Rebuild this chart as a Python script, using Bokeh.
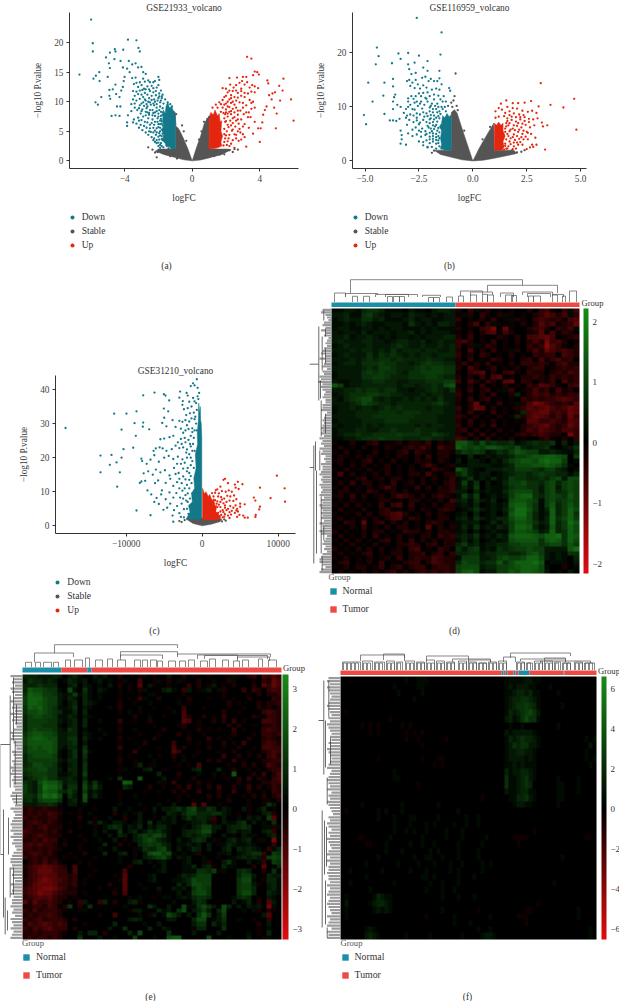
from bokeh.plotting import figure
from bokeh.layouts import column, row
from bokeh.embed import file_html
from bokeh.resources import INLINE
from bokeh.models import Range1d, Label, Legend, LegendItem, FixedTicker, ColorBar, LinearColorMapper, Title
import numpy as np

FONT = "Liberation Serif"
TEAL, GREY, RED = "#12788a", "#555555", "#e5260f"
BAR_N, BAR_T = "#1b8ea8", "#ee4a44"
TXT = "#333333"

# ---------- volcano data: flat x,y lists ----------
a_down = [-5.98,23.9,-5.88,19.9,-5.88,18.5,-6.67,14.6,-3.8,20.5,-3.3,20.4,-4.58,18.9,-4.54,18.5,-4.08,18.8,-3.18,19.1,-3.1,18.5,-4.87,18.3,-5.1,17.5,-4.6,17.2,-4.24,16.9,-4.93,16.5,-4.87,15.7,-5.5,15,-5.7,14.4,-5.84,13.9,-5.48,13.5,-5,14.2,-4.54,12.9,-5.72,9.9,-5.58,9.5,-5.38,10.8,-4.9,12,-4.9,11,-4.85,10.5,-4.7,12.1,-4.5,11.3,-4.2,11.9,-4.3,10.8,-4.1,12.5,-4.05,13.5,-4,14.2,-4.1,15.8,-3.85,15.6,-3.7,15,-3.75,16.9,-3.55,16.3,-3.35,16.5,-3.2,15.8,-3,15.9,-2.9,15,-2.75,14.7,-2.9,13.9,-3.35,14.1,-3.55,14,-3.45,13,-3.3,13.2,-3.2,12.5,-3.1,13.3,-3,12.8,-2.85,12.2,-2.65,12.6,-2.5,13.3,-2.4,12.7,-2,14.2,-1.95,13.7,-2.2,13.5,-2.1,12.4,-2,12.8,-1.85,11.9,-1.75,11.2,-1.6,10.4,-1.45,9.9,-1.3,9.6,-1.2,9.2,-3.5,11.8,-3.4,11,-3.3,10.2,-3.2,11.3,-3.1,10.5,-3,11.2,-2.9,10.8,-2.8,11.5,-2.75,10.2,-2.65,11.2,-2.55,10.6,-2.5,11.8,-2.4,11,-2.3,11.6,-2.25,10.4,-2.15,11.1,-2.05,10.2,-1.95,10.9,-1.85,10.2,-3.6,9.6,-3.4,9,-3.25,8.6,-3.1,9.4,-3,8.4,-2.85,9.3,-2.75,8.3,-2.65,9.2,-2.55,8.1,-2.45,9.5,-2.35,8.6,-2.25,9.4,-2.2,8.2,-2.1,9,-2,8,-1.9,9.2,-1.85,8.3,-1.75,8.9,-4.77,7.6,-4.54,7.7,-4.3,7.6,-4.45,9.2,-4.25,9.2,-3.85,6.5,-3.85,5.9,-3.5,6.5,-3.45,7,-3.3,6.3,-3.2,7.3,-3.05,6.1,-2.9,7.5,-2.8,6.6,-2.7,5.6,-2.6,7.2,-2.5,6.1,-2.45,4.9,-2.35,7,-2.3,5.6,-2.2,6.6,-2.15,4.4,-2.1,5.5,-2.05,7.2,-2,6.2,-1.95,3.6,-1.95,4.7,-1.9,5.6,-1.85,7.1,-1.85,3,-1.8,6.3,-1.8,4.2,-1.75,3.5,-1.75,7.8,-2.6,4.4,-2.4,4,-2.3,3.5,-2.2,3.2,-2.1,3,-2,2.5,-1.9,2.2,-1.7,2.3,-3.6,8.4,-3.8,7.7,-3.05,8,-2.95,5.2,-3.15,5.6,-2.75,4.8,
 -1.7,9.7,-1.8,10.6,-1.9,9.9,-2,10.6,-2.1,9.6,-2.2,10,-2.3,9.7,-2.4,10.3,-2.5,9.9,-2.6,10,-2.7,9.6,-2.8,10.4,-2.9,9.9,-3,9.7,-3.1,11.9,-3.3,11.7,-2.95,12,-2.75,12.1,-2.55,12.1,-2.3,12.3,-2.15,11.8,-1.95,11.4,-1.8,10.9,-2.3,13.3,-2.6,13.6,-2.8,13.4,-2.7,8.9,-2.5,8.6,-2.3,8.1,-2.1,8.4,-1.95,8.6,-1.85,7.6,-1.75,8.2,-2.75,7.7,-2.55,7.8,-2.35,7.7,-2.2,7.6,-2,7.5,-1.9,6.8,-1.8,6.7,-2.4,6.4,-2.25,6.1,-2.05,6.6,-1.9,6.2,-1.75,6,-2.65,6.5,-2.5,5.5,-2.3,4.8,-2.2,5.1,-2,5.7,-1.9,5,-1.8,5.3,-1.75,4.6,-2.1,4.8,-2,4.1,-1.9,4.3,-1.8,3.7,-2.25,3.8,-2.1,3.5,-2,3.1,-1.9,2.7,-1.8,2.5,-2.55,5,-2.85,5.9,-3,6.9,-3.15,6.8,-2.65,8.2,-2.95,8.7,-3.15,8.9,-3.4,9.7,-3.5,10.4]
a_stable = [-1.9,1.7,-1.6,1.2,-1.4,2.1,-2.35,1.9,-2.6,2.3,-2.05,1.5,1.9,1.6,2.2,1.8,2.5,2,1.7,1.4,-2.1,0.6,-1.05,7.7,-0.95,7.9,1,7.4,0.9,7.1,-1.75,1.3,-2.2,1.4,-1.3,0.8,-0.9,0.4,-0.6,6,-0.5,5,-0.35,3.4,0.4,3.6,0.55,5,0.7,6.6,1.3,0.8,1.9,1.1,2.4,1.5,2.7,1.9]
a_up = [3.25,17.6,3.5,17.3,3.7,15.1,3.85,15,3.95,14.6,3.6,14.5,3.2,14.2,3,14.2,2.65,14.1,2.2,14,4.45,13.6,4.5,13.1,5.4,13.9,5.15,12.7,5.35,11.9,4.75,11.4,4.9,11.6,4.55,11.1,4.7,10.4,5.2,10.2,5.85,10.4,4.4,9.2,4.85,9,5,8,4.3,8.6,4.2,7.8,6,6.8,4.95,5.5,4.15,6.5,4.05,5.5,3.9,5.5,4,3.2,3.7,6.6,3.45,7.4,3.6,4.6,3.35,5.6,3.2,2.4,3.1,4,3,5.8,3.9,12.3,3.7,11.6,3.55,12.8,3.4,12.4,3.25,13.3,3.1,12.9,2.95,13.5,2.8,13.2,2.6,12.8,2.45,12.4,2.25,12.9,2.1,11.6,2.3,11.1,2,11,1.8,12.3,2.7,11.5,2.9,11,3.1,10.8,3.4,10.3,3.6,10,3.2,9.4,3,9.8,2.8,9.9,2.6,10.2,2.4,10,2.2,10.4,2,9.7,1.8,10.3,1.6,9.9,1.4,9.5,1.2,9,2.6,9,2.4,8.8,2.2,9.1,2,8.7,1.8,9,1.7,8.3,2.7,7.8,2.5,7.4,2.3,7.9,2.1,7.5,1.95,7.9,2.9,7,3.05,7.9,2.75,6.3,2.55,5.8,2.4,6.4,2.25,6.8,2.1,6.1,1.95,6.6,2.85,4.8,2.7,5,2.5,4.5,2.35,5.1,2.2,4.4,2.05,5,1.95,3.8,2.1,3.3,2.3,2.9,2.5,2.2,1.85,2.6,2.75,3.4,2.9,3.6,1.9,5.4,
 1.85,8.1,1.9,7.2,2,8.2,2.1,8,2.2,8.3,2.3,8.4,2.4,7.2,2.5,8.2,2.6,6.8,2.7,7,2,6.7,2.15,5.7,2.3,6,2.4,5.3,1.9,4.5,2,4.3,2.15,3.8,1.9,3.2,2.05,2.7,2.2,2.5,2.4,3.5,2.6,3.8,2.6,4.4,2.8,5.4,3,4.5,3.1,6.2,3.3,7.4,3.5,8.8,3.7,9,3.5,9.8,3.35,8.2,3.2,8.2,3,9,2.85,8.5,2.7,8.5,2.5,9.5,2.3,9.8,2.1,9.2,1.9,9.5,1.7,9.6,1.5,9,1.9,10.8,2.1,10,2.3,10.6,2.5,10.8,2.7,10.7,2.9,11.8,3.1,11.5,3.3,11.4,3.5,11.7,3.7,12.6,2.9,12.2,2.6,11.9,2.4,11.8,2.2,11.9,2,12.2]
a_grey_l = [0,0,-0.25,2,-0.5,3.7,-0.65,4.6,-0.75,5.2,-0.85,5.6,-0.95,5.8,-1,7.6,-1,2,-1.4,2,-2,2,-2.2,1.6,-1.9,1.35,-1.6,1,-1.3,0.8,-1,0.55,-0.5,0.18]
a_grey_r = [0,0,0.25,2.2,0.5,4.2,0.6,5.2,0.7,6.2,0.85,7,1,7.5,1,2,1.5,2,2.1,2,2.3,1.9,1.9,1.3,1.7,1,1.3,0.75,1,0.5,0.5,0.15]
a_teal_core = [-1,2,-1,8.2,-1.15,8.6,-1.2,9.2,-1.35,9,-1.45,10,-1.55,9.2,-1.6,8,-1.7,8.6,-1.75,7,-1.7,6,-1.8,5.2,-1.7,4.5,-1.75,3.4,-1.6,3,-1.55,2.4,-1.35,2.4,-1.25,2]
a_red_core = [1,2,1,7.4,1.1,8.2,1.25,7.8,1.35,8.6,1.5,7.6,1.6,8,1.65,6.6,1.75,6.8,1.7,5,1.8,4.2,1.7,3.2,1.75,2.5,1.5,2.2,1.3,2.1]

b_down = [-2.6,26.5,-1.45,23.8,-4.45,21,-4.37,19.4,-3.45,19.9,-3,20,-2.5,19.5,-1.5,19.7,-4.5,17.9,-3.75,18.1,-3.35,18.9,-3,17.9,-2.7,18.2,-2.1,18.5,-2.95,17,-2.85,16.1,-2.65,16.3,-2.3,17.3,-2.1,16.7,-1.55,16.7,-3.7,15.2,-4.85,14.5,-4.1,14.5,-3.7,13.8,-3.6,12.3,-4.15,12.1,-3.65,11.8,-4.65,11,-3.7,11,-3.5,10.4,-3.35,10,-3.7,9.6,-4.1,8.7,-5.05,8.5,-4.95,6.8,-3.85,7.5,-3.7,7.5,-3.55,7.4,-3.4,7.8,-3.35,5.6,-3.3,4.8,-3.3,4,-3.35,3.2,-3.1,3,-3.05,6.7,-3.1,8,-3.1,9.6,-3.05,14.8,-2.95,15,-2.9,13.9,-2.8,14.5,-2.7,13.5,-2.65,15,-2.55,14.2,-2.45,13.4,-2.35,15.4,-2.3,14,-2.2,15.6,-2.15,13.6,-2.05,14.8,-1.95,15.2,-1.8,14.8,-1.65,14.8,-1.55,15.3,-1.45,14.2,-1.55,13.2,-1.7,13.4,-1.9,13.2,-2.1,12.7,-2.3,12.6,-2.5,12.5,-2.65,12,-2.85,12,-3,11.6,-2.9,10.4,-3,10,-2.8,9.6,-2.7,10.8,-2.55,10.2,-2.4,11,-2.25,10.4,-2.1,11,-1.95,10.2,-1.8,11.4,-1.65,10.6,-1.5,11.4,-1.35,12,-1.25,11,-1.1,13.5,-1.05,13,-1.15,10.2,-1.25,9.2,-1.4,9.6,-1.55,9.2,-1.7,9.6,-1.85,9,-2,9.2,-2.15,8.8,-2.3,9,-2.45,8.6,-2.6,8.8,-2.75,8.4,-2.9,8.6,-3.05,8.4,-2.75,7.2,-2.6,7.5,-2.45,7.1,-2.3,7.6,-2.15,7.2,-2,7.7,-1.85,7.2,-1.7,8,-2.8,5.8,-2.65,6.2,-2.5,5.6,-2.35,6,-2.2,5.5,-2.05,6.2,-1.9,5.5,-1.75,6.4,-2.8,4.6,-2.6,4.9,-2.4,4.5,-2.2,4.8,-2,4.5,-1.85,4.6,-1.7,5,-2.3,3.5,-2.15,3.8,-2,3.3,-1.85,3.6,-1.7,3.2,-1.6,3.8,-1.9,2.6,-1.7,2.3,-1.55,2.7,-1.45,2.3,
 -2.4,12,-2.2,11.7,-2,12,-1.8,12.3,-1.6,12.1,-1.4,11,-1.9,10.6,-1.75,10.2,-1.6,10,-1.45,10,-1.3,10,-2,9.9,-1.85,9.6,-1.65,9,-1.5,8.7,-1.95,8.5,-1.8,8.4,-1.6,8.3,-2.1,8.3,-2.25,8.2,-1.95,7.9,-1.8,7.7,-1.65,7.3,-1.55,7.9,-2,7,-1.85,6.6,-1.7,6.7,-1.6,6.1,-2.1,6.5,-1.95,6,-1.8,5.9,-1.65,5.6,-1.55,5.3,-2.15,5,-2,5.2,-1.85,5.1,-1.7,4.4,-1.6,4.6,-2,4,-1.85,4.1,-1.7,3.9,-1.6,3.3,-1.55,4.2,-2.4,5.4,-2.5,6.8,-2.6,8,-2.7,9.5,-2.35,9.7,-2.45,10.6,-2.15,11.5,-2.6,11,-2.75,11.5,-3,11,-3.2,8.9,-2.95,7.6,-3,5.1,-2.5,3.6,-2.3,2.9,-2.1,2.6]
b_stable = [-0.8,16.2,-0.85,12,-1,10.8,-0.9,11.2,-1.8,1.9,-2.1,2.5,-1.25,1.4,1.5,1.6,1.8,1.9,2.05,1.6,2.4,2,-0.75,10.2,-0.95,10,-0.7,9.4,-1.5,1.6,-1.9,1.5,1.3,1.2,2.25,1.7,-0.4,5.6,0.45,4,0.8,6.3]
b_up = [3.15,14.4,4.7,11.5,4.2,9.9,3.6,10.4,3.05,10.1,4.8,5.8,3.35,2.1,3.45,6.6,3.25,6.4,3.2,7.1,2.7,11.1,2.4,10.8,2.1,10.7,1.85,10.7,1.55,11.2,1.3,10.6,1.2,9.8,1.05,9.2,1.35,9.5,1.6,10,1.85,9.8,2.05,9.7,2.3,9.3,2.55,9.1,2.75,9.3,2.95,8.9,2.35,8.5,2.15,8.6,1.9,8.8,1.7,8.5,1.45,8.3,1.2,8.2,1.05,8,3,7.9,2.8,7.7,2.6,7.8,2.4,7.4,2.2,7.7,2,7.3,1.8,7.6,1.6,7.4,2.85,6.6,2.65,6.2,2.45,6.7,2.25,6.2,2.05,6.5,1.85,6,1.65,6.6,2.9,4.3,2.7,5,2.5,5.4,2.3,5,2.1,5.4,1.9,4.9,1.7,5.5,2.95,3,2.75,3,2.55,4,2.35,4,2.15,4.1,1.95,3.9,1.75,4.2,2.8,2.6,2.65,2.5,2.5,2.2,2.3,3,2.1,3,1.9,2.7,1.75,3.1,1.6,2.3,1.5,3.2,1.45,2.1,1.6,5,1.5,6,1.55,7,
 1.5,8.9,1.7,9.2,1.6,7.9,1.8,8.2,2,8.1,2.2,8.1,2.4,8.1,2.6,7.2,2.3,6.9,2.1,7,1.9,6.6,1.7,7,1.55,6.4,1.75,5.8,1.95,5.7,2.15,5.8,2.35,5.6,2.55,5.2,1.5,5.4,1.65,4.6,1.85,4.4,2.05,4.6,2.25,4.4,2.45,4.5,1.55,4,1.7,3.6,1.9,3.4,2.05,3.4,2.2,3.5,1.5,2.8,1.65,2.7,1.85,2.2,2,2.3,1.55,2.3]
b_grey_l = [0,0,-0.25,3,-0.5,6,-0.73,8.9,-0.85,9.5,-1,9,-1,2,-1.8,2,-1.5,1.2,-1,0.7,-0.5,0.2]
b_grey_r = [0,0,0.3,2.4,0.6,4.5,0.97,7,1,2,1.9,2,2.05,1.4,1.5,0.9,1,0.5,0.5,0.15]
b_teal_core = [-1,2,-1,8.6,-1.1,8.2,-1.2,8.8,-1.3,8,-1.4,8.4,-1.45,7,-1.55,6.4,-1.45,5.6,-1.5,4.2,-1.45,3,-1.5,2.4,-1.3,2]
b_red_core = [1,2,1,7,1.1,6.6,1.2,7.2,1.3,6.6,1.4,7,1.4,5.6,1.5,4.6,1.4,3.6,1.45,2.6,1.35,2]

c_down = [-17980,28.7,-13380,20.6,-13380,15.7,-11930,20.8,-12150,17.9,-11270,18.6,-10830,15.7,-11180,11.5,-10610,20,-10350,22.5,-11580,32.9,-9960,32.9,-10610,28.2,-8900,30.1,-8640,33.6,-8730,26.4,-9080,22.9,-7760,38.3,-7760,30.3,-7810,29.1,-6970,28.3,-6270,39.1,-5040,38.6,-4820,38.2,-4340,36.8,-5040,34.4,-4470,33.6,-5000,31.7,-5260,30.2,-8640,4.5,-6800,3.1,-2900,39.4,-2050,39,-1900,38.2,-1000,41.2,-1500,41,-1200,41.8,-700,43,-500,37.2,-3000,37.6,-2550,36.6,-2600,35.5,-2400,34.2,-1700,36.4,-1400,35,-1100,33.2,-3900,31,-3000,30.8,-2600,30.5,-2200,31,-1700,30.6,-1400,31.5,-1000,31.3,-4700,29.2,-3500,29,-2800,28.5,-2200,28,-1800,28.4,-1300,28.6,-1000,28,-5500,25.4,-5000,25.6,-4300,26,-3800,26.4,-3200,24.5,-2800,25.5,-2300,25.8,-1800,25.2,-1500,26.4,-1100,25.8,-6400,22,-6100,22.7,-5600,23,-5200,22.7,-4700,22,-4000,22.5,-3500,23.5,-3000,22.8,-2500,23,-2000,22.4,-1500,23.3,-8000,19.7,-7900,19,-7300,18.2,-6800,19.4,-6300,20.7,-5700,18.8,-5000,20,-4400,20.5,-3800,19.6,-3200,20.3,-2600,19.5,-2000,20,-7700,15.4,-8000,13,-7500,13.2,-7100,16,-6500,15,-6100,16.5,-5500,15.7,-4900,16.3,-4300,14.8,-3700,17,-3100,15.5,-2500,16.8,-2000,16,-1500,17.8,-8200,12.6,-7200,10.4,-6700,9.2,-6200,12.5,-5800,13.3,-5300,10.4,-4800,12.6,-4200,13.8,-3800,11.7,-3300,12.8,-2700,12.5,-2200,13.6,-1700,13.5,-6300,7,-6000,8.2,-5400,9.2,-4800,7.8,-4300,9.8,-3800,8.3,-3400,9.6,-2900,8.3,-2600,10.3,-2200,9,-5700,6.4,-5100,4.7,-4600,5.3,-4200,6.5,-3700,4.6,-3300,5.8,-3000,3.7,-2700,6.5,-2400,4.9,-2100,7.4,-3900,3,-2800,2.6,-2400,2.5,-3800,1.2,
 -2000,12,-1700,11,-1500,14.6,-1400,12.5,-1900,9.5,-1600,8,-1300,9.5,-3000,11,-2500,8,-2300,11,-1900,7,-2000,5,-1800,3.5,-1500,20,-1300,22,-1200,24,-1000,22,-1700,21,-1900,17,-1700,15.5,-1300,19,-1100,17,-1600,24,-1300,27.5,-800,30,-700,28,-900,32,-700,34,-800,36,-600,38,-400,39,-600,40.5,-1000,36.5,-1200,37.5,-1600,33,-1900,34.5,-2100,32.5,-2000,29.5,-2500,27.3,-2700,24,-2200,24.5,-2100,21.5,-2300,18.5,-2800,18.2,-3300,18.2,-2500,14.5,-3000,13.8,-3500,15.2]
c_stable = [-3000,1.4,-2300,1.7,-2700,1.1,2600,1.3,2300,1.6,2900,1.9,3100,1.5]
c_up = [9830,14.7,10850,11,10900,7.1,9000,8.1,7600,11.2,7600,5.6,7500,4.8,6800,8.3,7000,7.4,7050,3.2,7000,2.6,6000,2.4,5600,2.4,5600,6.3,5400,3,5000,6.5,5300,12.2,4700,12.9,4300,12.1,4400,11.2,4800,10.8,3000,13.8,2800,13.5,3400,12.5,2400,11.5,2000,10.7,1800,10.5,2600,10.2,3100,10,3500,10.4,3900,10,4200,8.9,3700,8.6,3300,8.8,2900,8,2500,8.4,2100,8.6,4500,7.8,4100,7.3,3600,7.4,3200,7,2800,6.6,2400,7,2000,7.2,5000,5.6,4600,5,4100,5.3,3700,5.8,3400,5,3000,5.3,2700,4.6,2400,5.5,4700,4.2,4300,3.8,3800,3.3,3400,3,3000,3.4,2700,2.5,2500,3.2,2300,2.3,3900,4.4,4900,3.2,4600,2.6,
 1500,8.6,1700,9.7,1300,9.6,2200,6.2,2000,5.5,2400,4.2,2100,3.8,1900,6.5,1700,7.5,2600,7.7,2800,4,3200,4.6,3600,4,3000,6,2200,9.5,2300,2.8,2000,2.5,2900,2.7,3600,2.3,4400,6,4500,4.5]
c_grey_c = [-2100,2,-1200,0.7,0,0,1200,0.5,2300,1.2,2600,2,1000,2,0,2.3,-1000,2]
c_teal_core = [-50,2,-50,26,-120,30,-200,31,-250,35,-350,33,-450,36,-500,31,-650,27,-600,24,-900,21,-800,17,-1100,14,-1000,11,-1400,9.5,-1300,7,-1800,6,-1600,4,-2100,2]
c_red_core = [50,1.8,50,11,300,9.4,500,10,800,8.6,1000,9.2,1300,7.4,1500,8,1700,5.8,1900,6,1800,4.2,2300,3,2100,1.7,1000,1.8]

# ---------- heatmaps: one character per cell; 1-9 = green strength, a-i = red strength ----------
d_heat = [
"112213443111021102332b0c1ab0a0a00b0cda0c1d",
"223114532122132212122a1b0ca0b1a0a0bcedbd1c",
"123224423111231221122c0a0b0c0a1ba0cdcbcade",
"112123211222142121332a0bd0c1a0a0b0becdabcf",
"122112212122111212111b0a0cdg0fa00bcdb0cbd1",
"212213122212231212221a0b0bde0db00abe0dacb0",
"223122321212212122233b0c0a00ba0b0ddefd0abc",
"232223322123322312322cdb0a0c0a0b0bdbgcdb0a",
"123222322234322322323c0b1acb0a0a0cbcheca0b",
"222323323242333233223b0d0b0c0a1b0bdbfdcdcb",
"123222424343232332333c0b0cb0a0b0a0cbcc0dcb",
"222323434434333343322b0c0a0cb0a0bc0dacdbc0",
"123324445443323454433ac0b0c0a0b0ccbcb0cdbb",
"222223435543334545544b0db0ac0a0b0bcc0abcbc",
"122224545443244555544a0cde0b0cda0cbb0bcbdc",
"122224455433344455433b0b0c0de0a0bbcbacbcbc",
"211223344332233344455c0db0cb0ef0cb0bac0dbc",
"751223333332332334367a0b0c0a0b0a0cbedca0cd",
"223343443442212234324b0c0bc0a1c0abdbc0dab0",
"123444554433222323322c0a0b0c00b30bdcdbcbcc",
"213456632322323232422b0c0bc0a0a0cbcbccdedc",
"222346543323333334532a0bf0a0c0a1bdgfdcbcbe",
"122323323434333323322c0bfe0b0a0bcedefdcdfe",
"122233334443444333322b0c0a0c0a0a3deffcdcfe",
"222233344444443333222cb0b0a0b0a3bdfedbdbfc",
"122223333444433333222b0c0a0b0a0a0eeccdcbed",
"212223232333332323322c0b0b0c0a00bcdefcbcfd",
"122233223343334333222bc0b0a0b0a0bdcedcbddc",
"123343344445444335432b0c0c0b0a0bcbcdcbb0gc",
"112234445444333443322dc0b0c0a0b0a00bca0b0c",
"a00b00bc0aab0bbac0bab775363433412343340302",
"0b0a0b0a0ba0bcbdb0dbb865657765463233410124",
"a0b0a00b0a0bc0cba0bba354541243576552232113",
"0ba0b0ba0a0ba0b0c0bb0103012122355677887605",
"ab0a0bc0a0b0a0bab0ba0202210213567768988501",
"0a0b0b0a0b0a0a0bdb0ab112222112366677876410",
"a0b0a0b0ab0a0b0a0cba0752102223355543553201",
"0d0b0a0b0b0a0bb0da0bb352122012344345443313",
"a0a0bc0ab0bb0a0b0b0ac124121312544334356266",
"0b0c0bb0a0c0ab0b0a0bc151402013556443563565",
"a0b0a0b0bdb0a0c0b0bac131502112455442562565",
"0bb0a0cb0ab0b0a0a0bbc220312113566642563465",
"ab0c0b0ab0bdcb0b0bcb0152501212578843565475",
"0a0b0a00bb0a0bb0a0b0d231421301677651564565",
"a0b0b0a0c0cd0c0a0b0bb121301212788641573575",
"0b0a0b00bc0a0b0ba0bcb012421213699741383586",
"a0a0b0b0bcdeb0a0b0ba0120301202799631283584",
"0b0a0b0b0bdd0cb0a0bb0231421233688631384685",
"a0cb0f0bc0b0b0a0bcb0a122201313577642383597",
"0a0b0c0a0b0bb0a0e0b0b131412132588731273586",
"b0a00b0bb0a0cbb0b0bba120201211577652383486",
"0b0a0b0c0a0b0a0bb0cbc232412132788876889487",
"a0b0b0a0bc0b0c0b0b0bb131301212677774787486",
"0a0b0a0b0a0bbcb0bc0bb352312233556664566475",
"b0a0b0b0b0ab0cd0a0cb0424512143455655222279",
"0b0a0bc0a0bb0bbc0bc0c334423344334675212144",
"a0b0a0b0ab0c0bcbbdcbb155522356556886212103",
"0bc0a0b0c0a0bcc0bdcbb365534474688897011102",
"a0b0bb0ac0bc0bcc0bccb566623355678886100b01",
"0b0a0b0b0bc0b0bcbcbcb578612255768876201020",
]
e_heat = [
"3332223202310021200b000a10a00200b0a00a000a1a0bc0dcec",
"2433232013212012010a100d00a10b01a00b00a00b1000a0cbfd",
"3334333002302101020b0a0e02a00a000c0b0a20a0b000b0ecfd",
"3766544106104102100a0a0b10002310c20a1201b000c0cb0cdc",
"4877554212513101000a000a01100000a0000000a0000a0b0bbc",
"5888655213203101000a0a0c100b000a0b000a00a0a00b0000cb",
"5887655202303210000b00a0010000010a0000000b0a000b0bbc",
"4878654112402100010b000100a00a00c000a0000a00a00bab0b",
"4667654311303000000a010a00000010d0000000b00a0000cdcb",
"3566554113202100000000b00100a000db00b0a0c00000ba0ccb",
"3555544212303001000c00a00b000000ed0a00b0b0c0a000ddcb",
"3555444102303000000a000000a0000ab00a00000b0b00a0bbcb",
"3565554214301001000b00100000b000a00b0a0a00c0a000cdcb",
"4677665223302100100a000a000a000b0a00a00000b000a0ccbc",
"5788766224403101000b0a0000b000000b000c0a0a000b00bcba",
"5777776223402000000a0000b00000c00a0a0a00b0a0c000cdcb",
"4676776213304000000c000a000a00d0b0000b00a00b00a0ddcc",
"4666676102405100000a00c0000000ec000a000a00b00a00bcdc",
"3566665102404000000a0a00010a00b0a0a00000c00b0a0b0cdb",
"3555555213303000000b00a0001000a010000b0b00c0a000bbcc",
"3466554102304000000a00a30a10000a0a0d00000a00b0b0adcb",
"4556644203304000000a10002300a0000023000300b00a0a0bcc",
"3455544112305000000a00000003000b00010010a07000b0c0bd",
"2345644223203000010400070000200a00b000a00a0b0c0ba0cd",
"4326877523305141000087000001a0c00a0b0a00000b0a00bbcc",
"5325988614406252000032000b00a00b0c0a0b0c00b00c0b0acb",
"5325877435305121000a0000a00a00b0b00c000b00c00b00a0cb",
"4436989604207131000a00100000000a0a000b0b0a00a0b0b0bc",
"3425666402306000000a000000000a0a00a00a000b000a00aa0b",
"2223343102201000000100010001002000e0e00a00000a00a420",
"bcbbcbba000a00a000200100a02022342562243021002a0130a0",
"bcbcbdcb0a0a010000b010a20010032135533344210a0a0023b0",
"cbcbbcca000b00a00100b00200a02120242332c02001021205e0",
"bcdcbcba0a0002a31022101204021120012231b0211340201040",
"bcbcdbbb000a00a01343021302133100102355220233430011b1",
"dcbbcbca0b0000102004023024342100233466200231220023c0",
"cbcdcbbb000a001002032024546641002323430020a021100230",
"bbcbdcc0a000a0010020a023565321020134301a0231230a10g0",
"cdcdccb0b00a0000300b0a03454532011212020a1321121000c0",
"ccbcbcba000a0001002000a14335620201320200230323210c13",
"bcdcbca00a00b0003002301026775610101b000112012344c054",
"cbcbcbb0a0a000a0000100a0234563021200100a00123232b565",
"0bcbdbca000a0a00000100230101200012001b0024100201c054",
"bcdefedcb0d00a0000000b0000102000113023a0311000b0e003",
"acdfffdcc0d000a00000d000000120001114435a10034300b040",
"acdefeeccbc00a0000a0e0000120000132355500000355200322",
"bcdfgfedcbc0a000000ae000012000112365550000046610a331",
"bcefffeccbc0a0000b00e00a00000003136655000004552a0231",
"cdefggfdcab0000a00a0e0001002002120465400000455300231",
"cdegffdcbbb0a00000b0d000000a000201566400000466300321",
"bcdedecbb0a0000000000a0100a01101213443000013430a0210",
"ebeccdcb0a0c200c30b0023a00000010002430000020130b0e20",
"abccbdc0b50b0400000010000420020061146420630202120g10",
"cbdbcccba00a100000000a2200031204602352036000101a0ba0",
"bcbccdcb0000000a00d000010a20164202047402500000002e00",
"cbcdbcccb0b00000000002320000022000366012400100a00c00",
"bdcdedcdc000a0000030000010020000002440313000000b0200",
"cbdcdeccc0b00000020040000300210000a330004000000a0100",
"bbcbcccba0020330b000030600000400002000020000010a0300",
"bcbccbcb0004000200100050001006770000060001000200a100",
]
f_heat = [
"0000000000000000100111000000000000000000011111221100000000000000",
"0000000000000100000110000000000000000000012122211000100000000000",
"00000000000000100000100000000000000000000112332311000010000000000",
"00000000000000000010000000000000000000000123344321000000000000000",
"00000000000000000000000000000000000000000123445431000001000000000",
"0a00000000000000000000000000000000000000013234564200000000000000",
"000000000000a0000000000000000000000000000231246441000000000000000",
"00000a0a0a00000a0a000000000000000000000000100100000000100000000",
"0000000a0a000000a0a0a000000000000000000002122222100000000000000",
"0000000000000000a00a000000a0000000000000013234332100000000000101",
"00000000000000000000a00000000000000000000124344221000000000000201",
"0000000000000000000000000000000000000000012233221000000000000100",
"000000000a0000000000a000aa00000000000000012222121000000000000101",
"00000000000000000000000a0a000000000000000112121110000000000000100",
"0000000000000100000000000000000000000000031223321000000000000000",
"000000000000011000000000000000000000000004112342100000100001000",
"0000000000000000000a00000000000000000000041123430000001100010000",
"00000000000000000000000000000000000000000211233110000011000100000",
"00000000000000000000000000000000000a0000001133421000001100000000",
"00000100000000010000000010000000000000000001221100000010000000000",
"0a000000010100010000000000000100000000000000000000000000000000000",
"0000000001000100011000001000000100100000000000000000000000000000",
"000000000000010001000101000010010010000000000000000000000000000",
"000000000000010010100100001000100000000000000000a000000000000000",
"0000aa0000001000000010000010001000001000000aaaa00000000000000aa",
"000000aa000100000100100100000100000100000000a0000000000000000000",
"0000000000010001000000101000010000100000000000000000000000000000",
"000000000100000000100110010001000010000000000000000000010000000",
"00000010000000100001000100010010000101000000000000000000000000000",
"0010000000100000010001000001010000010000000000000000000000000000",
"000000100000000000001101000001000100000000000000000000000000000",
"0010000000000100000000100100010000000000000000000000010000000000",
"0000000100000000000001000100100000000000000000000000000000000000",
"01000000132110000000000001000100010000000000000000000000000000000",
"0200000123321000000000000000000000000000000000000a000000000000000",
"0100000012121000000000000100000000a00000000000aa00000000000100",
"010000000000000000000a0000001000000001000000aaa000000000000100",
"0000000000000000000000000000100010000000000000a00000000000000000",
"000000121000000000000000000000000010010000000000000000000000001",
"000000232100000010000010000000100001221000000000000000000000001",
]

# ---------- dendrograms: brackets: a, b, height, drop-left, drop-right ----------
d_top = [19,191,22.3,9,16.7, 156,226,16.7,10,9, 3,14,9,0,5, 14,46,8.5,5,7, 44,77,7.6,5,5, 54,86,7.5,5,5, 91,109,6.7,5,5, 129,151,11,6,7.7, 139,161,10,6,7, 169,182,9,5,5, 191,221,10,7,7, 196,219,8.5,5,5, 221,232,7.6,6,5,
 21,26,5.7,0,0, 32,38,5.7,0,0, 56,61,5.5,0,0, 62,68,5.5,0,0, 68,73,5.5,0,0, 97,102,4.5,0,0, 102,108,4.5,0,0, 115,121,5,0,0, 127,132,6,0,0, 139,145,7,0,0, 151,156,7.7,0,0, 156,162,7,0,0, 174,181,7,0,0, 180,185,6.5,0,0, 197,202,6,0,0, 202,209,6,0,0, 221,226,7,0,0, 231,234,6,0,0, 238,245,11,0,0]
e_top = [32,155,22.3,14,19, 12,51,14,4.7,10, 98,155,15.3,10,12, 155,248,13,10,10, 98,140,12,7,8, 175,215,12,8,8, 182,245,11.5,8,8, 215,247,10,6,6,
 3,9,4.7,0,0, 13,18,4.7,0,0, 21,29,4.7,0,0, 31,36,4.7,0,0, 43,48,7,0,0, 52,60,7,0,0, 63,67,9,0,0, 73,80,7,0,0, 85,90,8,0,0, 95,103,7,0,0, 112,118,7,0,0, 120,125,7,0,0, 128,134,7,0,0, 135,140,6,0,0, 146,153,6,0,0, 157,163,6,0,0, 166,172,7,0,0, 178,185,6,0,0, 187,193,8,0,0, 200,206,7,0,0, 211,217,6,0,0, 220,226,7,0,0, 236,240,8,0,0, 246,254,7,0,0]
f_top = [170,230,17,12,14, 163,175,13,8,8, 204,225,12,9,8, 20,64,15,9,9, 43,64,16,10,12, 86,128,14,9,9, 112,150,11,8,8, 128,150,10,8,8, 180,225,11,9,8, 200,250,9,7,7, 2,20,8,0,0, 22,32,9,0,0, 34,44,8,0,0, 46,54,9,0,0, 56,62,8,0,0, 65,74,9,0,0, 76,84,8,0,0, 86,94,10,0,0, 96,104,9,0,0, 106,114,8,0,0, 118,126,9,0,0, 128,136,8,0,0, 138,146,7,0,0, 148,156,8,0,0, 158,166,9,0,0, 176,184,8,0,0, 186,192,7,0,0, 194,202,9,0,0, 204,212,9,0,0, 214,220,8,0,0, 222,230,7,0,0, 234,242,8,0,0, 244,254,7,0,0]
f_leaf_pairs = [3,6,7,10,11,14,15,18,23,26,27,30,35,38,39,42,47,50,51,54,57,60,66,69,70,73,77,80,81,84,87,90,91,94,97,100,101,104,107,110,111,114,119,122,123,126,129,132,133,136,139,142,143,146,149,152,153,156,159,162,163,166,177,180,181,184,187,190,195,198,199,202,205,208,209,212,215,218,223,226,227,230,235,238,239,242,245,248,249,252]
d_leaves = "6743256474523435674845636587967645644667345656767586758674547667867687678576876767586687345645367886478"
e_leaves = "867587568675867546878654765768786766578765865678786867546788786765867867786758768678"
f_leaves = "8979876789876879876768798767896789879687987658798687987689797889887978978987697896989"
d_stems = [12.7,18,92, 9.3,28,62, 7.7,2,12, 11,72,90, 10.3,92,128, 17.7,137,255, 15,162,245, 10.3,188,245, 7.7,218,232, 9.3,248,262, 16,133,162, 11.7,142,162, 6,20,28, 6,40,55, 6,105,125]
d_roots = [12.7,21.7,55.7, 17.7,21.7,159]
e_stems = [22.3,70,180, 12.3,21,113, 9,3,66, 7.3,66,110, 19,135,243, 17.3,223,260, 14,143,180, 12.3,193,223, 9,193,220, 15,236,256, 6,30,50, 6,120,130]
e_roots = [12.3,22.3,70, 19,22.3,180]
f_stems = [16.7,4,98, 15,44,91, 13.3,101,128, 18.3,134,251, 16,144,198, 15,204,248, 11.7,4,41, 10,61,88, 13.3,251,261, 14,150,190]
f_roots = [16.7,22,44]

# ---------- groups (N = Normal, T = Tumor) as runs of samples ----------
d_groups = ["N",21,"T",21]
e_groups = ["N",9,"T",6,"N",1,"T",44]
f_groups = ["T",161,"N",2,"T",2,"N",2,"T",6,"N",2,"T",3,"N",11,"T",34,"N",1,"T",32]

H = 1001

def volcano(cell, frame, xr, yr, xticks, yticks, title, title_x, down, stable, up, patches):
    x0, y0, w, h = cell
    fl, fr, ft, fb = frame
    p = figure(width=w, height=h, x_range=Range1d(*xr), y_range=Range1d(*yr),
               output_backend="svg", toolbar_location=None,
               min_border_left=fl-x0, min_border_right=x0+w-fr, min_border_top=ft-y0, min_border_bottom=y0+h-fb)
    p.outline_line_color = None
    p.grid.visible = False
    p.title = Title(text=title, align="center", offset=title_x-(fl+fr)/2, text_font=FONT, text_font_size="9.4px",
                    text_font_style="normal", text_color=TXT, standoff=0)
    for flat, col in patches:
        p.patch(flat[::2], flat[1::2], fill_color=col, line_color=col, line_width=0.5)
    p.scatter(stable[::2], stable[1::2], size=2.3, color=GREY, line_color=None)
    p.scatter(down[::2], down[1::2], size=2.3, color=TEAL, line_color=None)
    p.scatter(up[::2], up[1::2], size=2.3, color=RED, line_color=None)
    p.xaxis.ticker = FixedTicker(ticks=list(xticks))
    p.yaxis.ticker = FixedTicker(ticks=list(yticks))
    p.xaxis.major_label_overrides = dict(xticks)
    p.yaxis.major_label_overrides = {k: str(k) for k in yticks}
    p.xaxis.axis_label = "logFC"
    p.yaxis.axis_label = "\u2212log10 P.value"
    for ax in (p.xaxis[0], p.yaxis[0]):
        ax.axis_line_color = "#333333"
        ax.axis_line_width = 1
        ax.major_tick_line_color = "#333333"
        ax.major_tick_out = 3
        ax.major_tick_in = 0
        ax.minor_tick_line_color = None
        ax.major_label_text_font = FONT
        ax.major_label_text_font_size = "9.3px"
        ax.major_label_text_color = "#444444"
        ax.major_label_standoff = 3
        ax.axis_label_text_font = FONT
        ax.axis_label_text_font_size = "9.3px"
        ax.axis_label_text_font_style = "normal"
        ax.axis_label_text_color = TXT
        ax.axis_label_standoff = 8
    return p

def plain(x0, y0, w, h):
    p = figure(width=w, height=h, x_range=Range1d(x0, x0+w), y_range=Range1d(H-y0-h, H-y0), x_axis_type=None, y_axis_type=None,
               output_backend="svg", toolbar_location=None, min_border=0)
    p.outline_line_color = None
    p.grid.visible = False
    return p

def caption(p, px, py, s):
    p.add_layout(Label(x=px, y=H-py, text=s, text_font=FONT, text_font_size="9.4px", text_color=TXT,
                       text_align="center", text_baseline="middle"))

def volcano_key(cell, frame_x, marker_xy, cap, down, stable, up):
    # stacked under a volcano figure, this strip's frame lines up with that figure's frame,
    # so it takes the same left and right edges. The series lie outside its ranges; they only feed the legend.
    x0, y0, w, h = cell
    fl, fr = frame_x
    p = figure(width=w, height=h, x_range=Range1d(fl, fr), y_range=Range1d(H-y0-h, H-y0), x_axis_type=None, y_axis_type=None,
               output_backend="svg", toolbar_location=None, min_border_left=fl-x0, min_border_right=x0+w-fr,
               min_border_top=0, min_border_bottom=0)
    p.outline_line_color = None
    p.grid.visible = False
    rs = [p.scatter(s[::2], s[1::2], size=6, color=c, line_color=None) for s, c in ((down, TEAL), (stable, GREY), (up, RED))]
    mx, my = marker_xy
    items = [LegendItem(label=t, renderers=[r]) for t, r in zip(("Down", "Stable", "Up"), rs)]
    lg = Legend(items=items, location=(mx-5-fl, y0+h-(my-7+42)), border_line_color=None, background_fill_alpha=0,
                padding=0, margin=0, spacing=0, glyph_width=10, glyph_height=14, label_height=14, label_standoff=5,
                label_text_font=FONT, label_text_font_size="9.5px", label_text_color=TXT)
    p.add_layout(lg, "center")
    caption(p, *cap)
    return p

def decode(rows, vmax, ncols):
    out = []
    for r in rows:
        r = (r + "0"*ncols)[:ncols]
        vals = []
        for c in r:
            if c.isdigit():
                vals.append(int(c)/12*vmax)
            else:
                vals.append(-(ord(c)-96)/14*vmax)
        out.append(vals)
    return np.array(out[::-1])

ramp = ["#%02x%02x%02x" % (int(225*(1-i/100)), int(12*(1-i/100)), int(15*(1-i/100))) for i in range(100)] + \
       ["#%02x%02x%02x" % (int(24*i/100), int(140*i/100), int(24*i/100)) for i in range(101)]

def heat(cell, box, bar, cbar, rows, ncols, vlim, vticks, groups, top, left_leaves, stems, roots, group_xy, leg_xy, cap, leaf_pairs=None):
    x0, y0, w, h = cell
    hl, hr, ht, hb = box
    p = plain(x0, y0, w, h)
    Y = lambda py: H-py
    vmax = max(abs(vlim[0]), abs(vlim[1]))
    mapper = LinearColorMapper(palette=ramp, low=-vmax, high=vmax)
    p.image(image=[decode(rows, vmax, ncols)], x=hl, y=Y(hb), dw=hr-hl, dh=hb-ht, color_mapper=mapper)
    bt, bb = bar
    total = sum(groups[1::2])
    pos = 0
    rend = {}
    for g, n in zip(groups[::2], groups[1::2]):
        a = hl + (hr-hl)*pos/total
        b = hl + (hr-hl)*(pos+n)/total
        r = p.quad(left=a, right=b, top=Y(bt), bottom=Y(bb), fill_color=BAR_N if g == "N" else BAR_T, line_color=None)
        rend.setdefault(g, r)
        pos += n
    xs, ys = [], []
    for a, b, c, da, db in zip(top[::5], top[1::5], top[2::5], top[3::5], top[4::5]):
        base = Y(bt-0.5)
        xs.append([hl+a, hl+a, hl+b, hl+b])
        ys.append([base+da, base+c, base+c, base+db])
    if leaf_pairs:
        for a, b in zip(leaf_pairs[::2], leaf_pairs[1::2]):
            base = Y(bt-0.5)
            xs.append([hl+a, hl+a, hl+b, hl+b])
            ys.append([base, base+7, base+7, base])
    p.multi_line(xs, ys, line_color="#555555", line_width=0.7)
    n = len(left_leaves)
    lx, ly = [], []
    for i, c in enumerate(left_leaves):
        yy = Y(ht + (hb-ht)*(i+0.5)/n)
        lx.append([hl, hl-int(c)*1.5])
        ly.append([yy, yy])
    p.multi_line(lx, ly, line_color="#9a9a9a", line_width=2.2)
    sx, sy = [], []
    for a, t, b in zip(stems[::3], stems[1::3], stems[2::3]):
        sx.append([hl-a, hl-a]); sy.append([Y(ht+t), Y(ht+b)])
    for a, b, t in zip(roots[::3], roots[1::3], roots[2::3]):
        sx.append([hl-a, hl-b]); sy.append([Y(ht+t), Y(ht+t)])
    p.multi_line(sx, sy, line_color="#444444", line_width=0.8)
    cl, cr, ct, cb_ = cbar
    cb = ColorBar(color_mapper=LinearColorMapper(palette=ramp, low=vlim[0], high=vlim[1]), ticker=FixedTicker(ticks=vticks),
                  width=cr-cl, height=cb_-ct, location=(cl-x0, y0+h-cb_), padding=0, margin=0,
                  major_tick_line_color=None, minor_tick_line_color=None, bar_line_color=None, label_standoff=4,
                  major_label_text_font=FONT, major_label_text_font_size="9px", major_label_text_color=TXT,
                  background_fill_alpha=0, border_line_color=None)
    p.add_layout(cb, "center")
    p.add_layout(Label(x=group_xy[0], y=Y(group_xy[1]), text="Group", text_font=FONT, text_font_size="8.6px", text_color=TXT,
                       text_align="left", text_baseline="middle"))
    lgx, lgy = leg_xy
    lg = Legend(title="Group", items=[LegendItem(label="Normal", renderers=[rend["N"]]), LegendItem(label="Tumor", renderers=[rend["T"]])],
                location=(lgx-x0, y0+h-lgy), border_line_color=None, background_fill_alpha=0, padding=0, margin=0,
                spacing=7, glyph_width=8, glyph_height=8, label_height=8, label_standoff=6,
                label_text_font=FONT, label_text_font_size="9.8px", label_text_color=TXT,
                title_text_font=FONT, title_text_font_size="8.6px", title_text_font_style="normal", title_text_color="#555555", title_standoff=3)
    p.add_layout(lg, "center")
    caption(p, *cap)
    return p

pa = volcano((0,0,310,205), (69,298,11,170), (-7.26,6.29), (-1.29,25.1),
             {-4:"\u22124",0:"0",4:"4"}, [0,5,10,15,20], "GSE21933_volcano", 182,
             a_down, a_stable, a_up, [(a_grey_l,GREY),(a_grey_r,GREY),(a_teal_core,TEAL),(a_red_core,RED)])
ka = volcano_key((0,205,310,67), (69,298), (71.7,217), (166,265.7,"(a)"), a_down, a_stable, a_up)
pb = volcano((310,0,309,205), (352,586,11,170), (-5.58,5.27), (-1.4,27.5),
             {-5:"\u22125.0",-2.5:"\u22122.5",0:"0.0",2.5:"2.5",5:"5.0"}, [0,10,20], "GSE116959_volcano", 465,
             b_down, b_stable, b_up, [(b_grey_l,GREY),(b_grey_r,GREY),(b_teal_core,TEAL),(b_red_core,RED)])
kb = volcano_key((310,205,309,67), (352,586), (354.7,217), (449,265.7,"(b)"), b_down, b_stable, b_up)
pc = volcano((0,272,300,298), (55,295,375,534), (-19300,12280), (-2.25,44.1),
             {-10000:"\u221210000",0:"0",10000:"10000"}, [0,10,20,30,40], "GSE31210_volcano", 168,
             c_down, c_stable, c_up, [(c_grey_c,GREY),(c_teal_core,TEAL),(c_red_core,RED)])
kc = volcano_key((0,570,300,70), (55,295), (57.3,581.7), (154,630.7,"(c)"), c_down, c_stable, c_up)
pd = heat((300,272,319,368), (331,579,308,573), (302,306.5), (583,588,308,573), d_heat, 42, (-2.16,2.22), [-2,-1,0,1,2],
          d_groups, d_top, d_leaves, d_stems, d_roots, (581,302), (328.5,614), (454,630,"(d)"))
pe = heat((0,640,310,361), (22,281,674,939), (667,672), (282,288,674,939), e_heat, 52, (-3.26,3.35), [-3,-2,-1,0,1,2,3],
          e_groups, e_top, e_leaves, e_stems, e_roots, (282.5,667.5), (22,980), (150,996.7,"(e)"))
pf = heat((310,640,309,361), (340,596,676,939), (670,674.5), (601,606,676,939), f_heat, 64, (-6.5,6.6), [-6,-4,-2,0,2,4,6],
          f_groups, f_top, f_leaves, f_stems, f_roots, (597.5,670), (340.5,980), (467,996.7,"(f)"), leaf_pairs=f_leaf_pairs)

root = column(row(column(pa, ka), column(pb, kb)), row(column(pc, kc), pd), row(pe, pf))
open("out.html", "w").write(file_html(root, INLINE))
